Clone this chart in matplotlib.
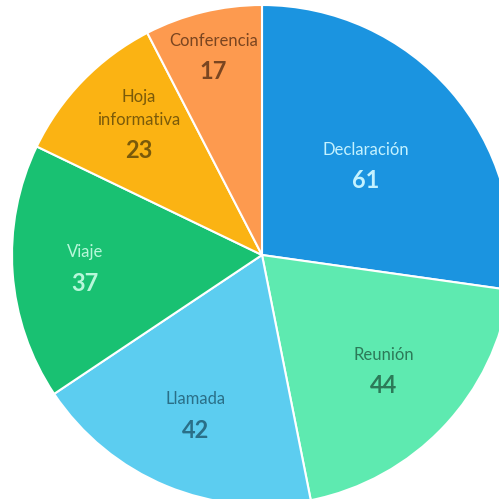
import numpy as np
import matplotlib
matplotlib.use("Agg")
import matplotlib.pyplot as plt

categories = ["Declaración", "Reunión", "Llamada", "Viaje", "Hoja\ninformativa", "Conferencia"]
values = [61, 44, 42, 37, 23, 17]
slice_colors = ["#1b94e0", "#5eeab0", "#5ccdf0", "#19c172", "#fbb313", "#fd9a4f"]
text_colors = ["#c4f2ff", "#2c7a58", "#2a6f88", "#b8f7da", "#7a5a0a", "#7a4520"]
label_radius = [0.55, 0.67, 0.69, 0.71, 0.69, 0.82]

plt.rcParams["font.family"] = ["Lato", "DejaVu Sans"]

fig = plt.figure(figsize=(4.99, 4.99), dpi=100)
ax = fig.add_axes([0, 0, 1, 1])
wedges, _ = ax.pie(values, colors=slice_colors, startangle=90, counterclock=False,
                   radius=1.0, center=(0, 0),
                   wedgeprops=dict(edgecolor="white", linewidth=1.5))

for w, name, val, tc, r in zip(wedges, categories, values, text_colors, label_radius):
    mid = np.deg2rad((w.theta1 + w.theta2) / 2)
    x, y = r * np.cos(mid), r * np.sin(mid)
    ax.annotate(name, (x, y), xytext=(0, 5), textcoords="offset points",
                ha="center", va="bottom", fontsize=12, color=tc, linespacing=1.5)
    ax.annotate(str(val), (x, y), xytext=(0, -3), textcoords="offset points",
                ha="center", va="top", fontsize=17, fontweight="bold", color=tc)

ax.set_xlim(-1.048, 0.948)
ax.set_ylim(-0.976, 1.02)
ax.set_aspect("auto")
ax.axis("off")
fig.savefig("out.png", dpi=100, facecolor="white")
